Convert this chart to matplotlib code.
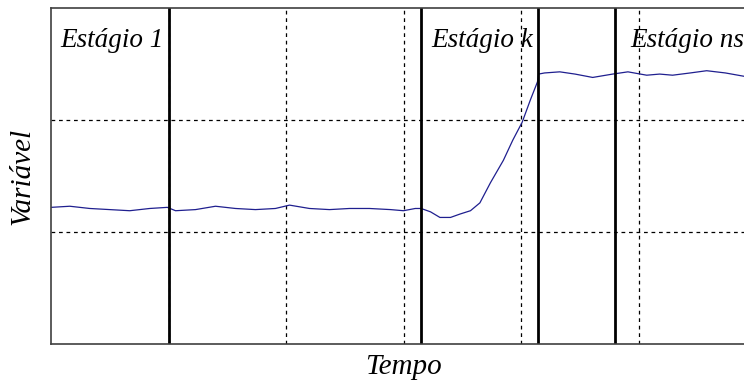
import matplotlib.pyplot as plt

# curve (time in grid units, variable in grid units)
tempo = [0.00, 0.16, 0.33, 0.50, 0.67, 0.84, 0.99, 1.06, 1.23, 1.40, 1.57, 1.74,
         1.91, 2.03, 2.20, 2.37, 2.54, 2.71, 2.89, 3.00, 3.10, 3.15, 3.23, 3.31,
         3.40, 3.48, 3.57, 3.65, 3.74, 3.85, 3.93, 4.01, 4.08, 4.14, 4.15, 4.20,
         4.33, 4.46, 4.61, 4.78, 4.91, 5.07, 5.18, 5.29, 5.44, 5.58, 5.74, 5.90, 6.00]
variavel = [1.22, 1.23, 1.21, 1.20, 1.19, 1.21, 1.22, 1.19, 1.20, 1.23, 1.21, 1.20,
            1.21, 1.24, 1.21, 1.20, 1.21, 1.21, 1.20, 1.19, 1.21, 1.21, 1.18, 1.13,
            1.13, 1.16, 1.19, 1.26, 1.44, 1.64, 1.82, 1.98, 2.18, 2.34, 2.41, 2.42,
            2.43, 2.41, 2.38, 2.41, 2.43, 2.40, 2.41, 2.40, 2.42, 2.44, 2.42, 2.39, 2.40]

stage_bounds = [1.0, 3.15, 4.145, 4.80]
stage_labels = ["Estágio 1", "Estágio k", "Estágio ns"]
stage_label_x = [0.08, 3.24, 4.93]

fig = plt.figure(figsize=(7.44, 3.81), dpi=100)
ax = fig.add_axes([51 / 744, 37 / 381, 705 / 744, 336 / 381])

ax.plot(tempo, variavel, color="#1f1f8f", lw=0.9)
for xb in stage_bounds:
    ax.axvline(xb, color="black", lw=2.0)

ax.set_xlim(0, 6)
ax.set_ylim(0, 3)
ax.set_xticks([1, 2, 3, 4, 5])
ax.set_yticks([1, 2])
ax.tick_params(length=0, labelbottom=False, labelleft=False)
ax.grid(True, color="black", linestyle=(0, (3, 3)), lw=0.9)
for s in ax.spines.values():
    s.set_color("#404040")
    s.set_linewidth(1.2)

serif = ["Liberation Serif", "DejaVu Serif"]
for lab, xl in zip(stage_labels, stage_label_x):
    ax.text(xl, 2.71, lab, fontsize=19.5, style="italic", family=serif,
            va="center", ha="left")

ax.set_xlabel("Tempo", fontsize=21, style="italic", family=serif, labelpad=7)
ax.set_ylabel("Variável", fontsize=21, style="italic", family=serif, labelpad=11)

fig.savefig("out.png", dpi=100)
